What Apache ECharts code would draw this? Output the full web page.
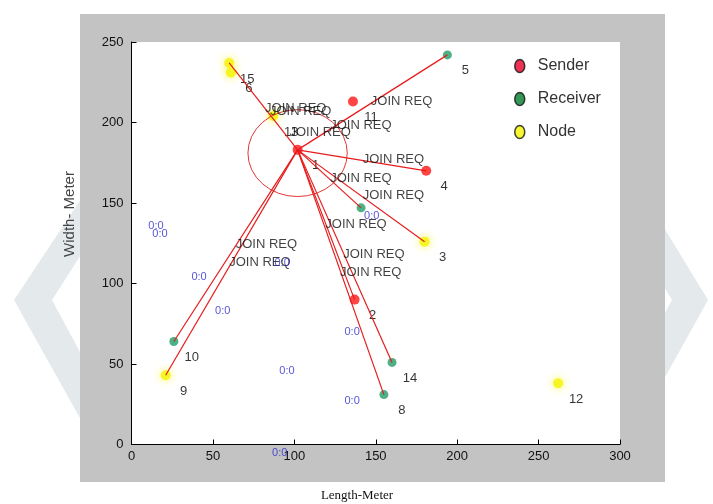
<!DOCTYPE html>
<html>
<head>
<meta charset="utf-8">
<script src="https://cdn.jsdelivr.net/npm/echarts@6/dist/echarts.min.js"></script>
<style>
html,body{margin:0;padding:0;background:#fff;}
#chart{width:713px;height:504px;}
</style>
</head>
<body>
<div id="chart"></div>
<script>
// ---- data ----
const xTicks = [0, 50, 100, 150, 200, 250, 300];
const yTicks = [0, 50, 100, 150, 200, 250];
const senderNodes = [[102, 183, '1'], [136, 213, '11'], [181, 170, '4'], [137, 90, '2']];
const receiverNodes = [[194, 242, '5'], [141, 147, ''], [26, 64, '10'], [160, 51, '14'], [155, 31, '8']];
const plainNodes = [[61, 231, '6'], [60, 237, '15'], [87, 204, '13'], [180, 126, '3'], [21, 43, '9'], [262, 38, '12']];
const linkSource = [102, 183];
const linkTargets = [[60, 237], [194, 242], [181, 170], [180, 126], [141, 147], [137, 90], [155, 31], [160, 51], [26, 64], [21, 43]];
const rangeCircle = [102, 181, 30.5, 27]; // centre x, centre y, radius x, radius y (metres)
const joinReqText = [[82, 209], [85, 207], [147, 213], [122, 198], [97, 194], [142, 177], [122, 165], [142, 155], [119, 137], [64, 124], [60, 113], [130, 118], [128, 107]];
const zeroText = [[15, 136], [17.5, 131], [41.5, 104], [56, 83], [95.5, 45.5], [92.5, 113], [135.5, 70], [135.5, 27], [147.5, 142], [91, -5]];
const legendNames = ['Sender', 'Receiver', 'Node'];

// ---- chart ----
const chart = echarts.init(document.getElementById('chart'), null, {renderer: 'canvas'});
const sans = '"Liberation Sans", Arial, sans-serif';
const ellipseIcon = 'path://M5,0 A5,6.5 0 1,1 5,13 A5,6.5 0 1,1 5,0 Z';

const nodeLabel = {
  show: true,
  position: 'inside',
  offset: [18, 16],
  formatter: p => p.data[2],
  color: '#000',
  fontSize: 13,
  fontFamily: sans
};

const option = {
  animation: false,
  backgroundColor: '#ffffff',
  graphic: {
    elements: [
      {type: 'polygon', z: -100, shape: {points: [[95, 178], [14, 300], [95, 445], [130, 445], [52, 300], [130, 178]]}, style: {fill: '#e4e9ec'}},
      {type: 'polygon', z: -100, shape: {points: [[630, 172], [708, 300], [630, 440], [595, 440], [672, 300], [595, 172]]}, style: {fill: '#e4e9ec'}},
      {type: 'rect', z: -99, shape: {x: 80, y: 14, width: 585, height: 468}, style: {fill: '#c3c3c3'}},
      {type: 'text', z: 10, x: 70, y: 214, rotation: Math.PI / 2, style: {text: 'Width- Meter', fill: '#444', font: '15px "Liberation Sans", Arial, sans-serif', align: 'center', verticalAlign: 'middle'}},
      {type: 'text', z: 10, x: 357, y: 496, style: {text: 'Length-Meter', fill: '#111', font: '13px "Liberation Serif", "Times New Roman", serif', align: 'center', verticalAlign: 'middle'}}
    ]
  },
  grid: {left: 131.5, right: 93, top: 42, bottom: 59.5, show: true, backgroundColor: '#ffffff', borderWidth: 0, z: 0},
  legend: {
    orient: 'vertical',
    left: 509,
    top: 53,
    itemWidth: 10,
    itemHeight: 13,
    itemGap: 17,
    icon: ellipseIcon,
    itemStyle: {borderColor: '#111', borderWidth: 1.5},
    textStyle: {fontSize: 16, color: '#333', fontFamily: sans, padding: [0, 0, 0, 8]},
    data: [
      {name: legendNames[0], itemStyle: {color: '#e8002a'}},
      {name: legendNames[1], itemStyle: {color: '#007d2c'}},
      {name: legendNames[2], itemStyle: {color: '#f4f400'}}
    ]
  },
  xAxis: {
    type: 'value', min: xTicks[0], max: xTicks[xTicks.length - 1], interval: 50,
    axisLine: {lineStyle: {color: '#000', width: 1}},
    axisTick: {inside: true, length: 5, lineStyle: {color: '#000'}},
    axisLabel: {color: '#111', fontSize: 13, fontFamily: sans, margin: 5},
    splitLine: {show: false}
  },
  yAxis: {
    type: 'value', min: yTicks[0], max: yTicks[yTicks.length - 1], interval: 50,
    axisLine: {show: true, lineStyle: {color: '#000', width: 1}},
    axisTick: {show: true, inside: true, length: 5, lineStyle: {color: '#000'}},
    axisLabel: {color: '#111', fontSize: 13, fontFamily: sans, margin: 8},
    splitLine: {show: false}
  },
  series: [
    {
      name: legendNames[0], type: 'scatter', z: 2, symbol: 'circle', symbolSize: 10,
      itemStyle: {color: '#ff1515'}, label: nodeLabel, data: senderNodes
    },
    {
      name: legendNames[1], type: 'scatter', z: 2, symbol: 'circle', symbolSize: 9,
      itemStyle: {color: '#1f9e66'}, label: nodeLabel, data: receiverNodes
    },
    {
      name: legendNames[2], type: 'scatter', z: 2, symbol: 'circle', symbolSize: 10,
      itemStyle: {color: '#f5f200', shadowBlur: 8, shadowColor: 'rgba(250,245,0,0.9)'}, label: nodeLabel, data: plainNodes
    },
    {
      type: 'lines', coordinateSystem: 'cartesian2d', z: 3, silent: true,
      lineStyle: {color: '#e61c1c', width: 1.2, opacity: 1},
      data: linkTargets.map(t => ({coords: [linkSource, t]}))
    },
    {
      type: 'custom', z: 3, silent: true,
      data: [rangeCircle],
      renderItem: function (params, api) {
        const c = api.coord([api.value(0), api.value(1)]);
        const rx = api.size([api.value(2), 0])[0];
        const ry = api.size([0, api.value(3)])[1];
        return {
          type: 'circle', x: c[0], y: c[1], scaleY: ry / rx,
          shape: {cx: 0, cy: 0, r: rx},
          style: {fill: 'none', stroke: '#e02a2a', lineWidth: 1}
        };
      }
    },
    {
      type: 'scatter', z: 4, symbolSize: 0, silent: true,
      label: {show: true, position: [0, 0], align: 'left', verticalAlign: 'middle', formatter: 'JOIN REQ', color: '#111', fontSize: 13, fontFamily: sans},
      data: joinReqText
    },
    {
      type: 'scatter', z: 5, symbolSize: 0, silent: true, clip: false,
      label: {show: true, position: [0, 0], align: 'center', verticalAlign: 'middle', formatter: '0:0', color: '#2a2ad0', fontSize: 11, fontFamily: sans},
      data: zeroText
    }
  ]
};
chart.setOption(option);
</script>
</body>
</html>
